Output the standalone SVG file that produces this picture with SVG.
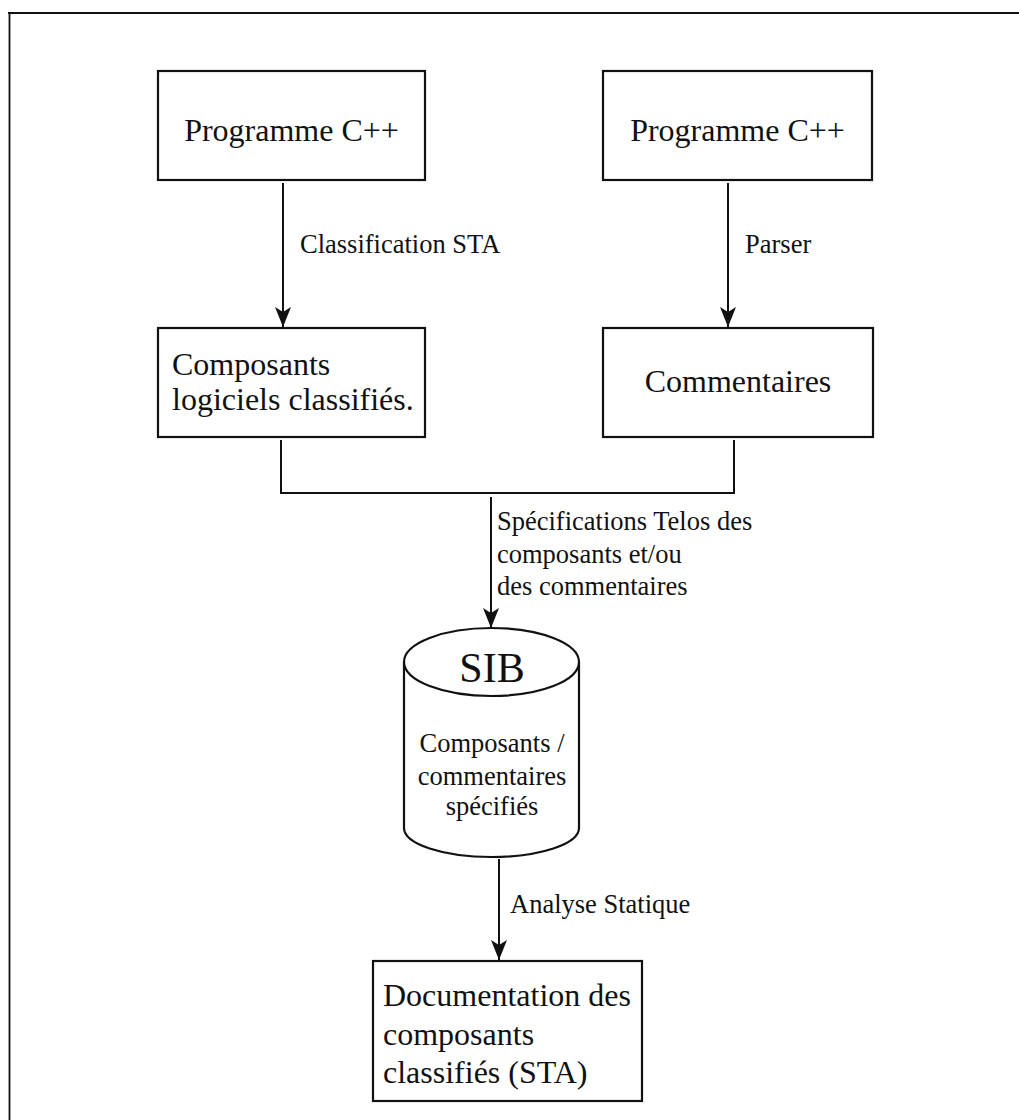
<svg xmlns="http://www.w3.org/2000/svg" width="1019" height="1120" viewBox="0 0 1019 1120">
<defs>
<marker id="ah" markerWidth="20" markerHeight="16" refX="20" refY="8" orient="auto" markerUnits="userSpaceOnUse" viewBox="0 0 20 16">
<path d="M0,0 L20,8 L0,16 L5,8 Z" fill="#111"/>
</marker>
<style>
.box{fill:#fff;stroke:#111;stroke-width:2.2}
.t{font-family:"Liberation Serif","Times New Roman",serif;fill:#111}
.big{font-size:32px}
.lab{font-size:26.5px}
.ln{fill:none;stroke:#111;stroke-width:2}
</style>
</defs>
<rect width="1019" height="1120" fill="#fff"/>
<g id="frame">
<path d="M8,13 H1019 M9.5,13 V1120" fill="none" stroke="#111" stroke-width="1.8"/>
</g>
<g id="connectors">
<line class="ln" x1="283" y1="183" x2="283" y2="327" marker-end="url(#ah)"/>
<line class="ln" x1="728" y1="183" x2="728" y2="327" marker-end="url(#ah)"/>
<path class="ln" d="M281,440 V493 H734 V440"/>
<line class="ln" x1="491" y1="497" x2="491" y2="628" marker-end="url(#ah)"/>
<line class="ln" x1="499" y1="859" x2="499" y2="960" marker-end="url(#ah)"/>
<text class="t lab" x="300" y="253">Classification STA</text>
<text class="t lab" x="745" y="253">Parser</text>
<text class="t lab" x="497" y="530">Spécifications Telos des</text>
<text class="t lab" x="497" y="563">composants et/ou</text>
<text class="t lab" x="497" y="595">des commentaires</text>
<text class="t lab" x="510" y="913">Analyse Statique</text>
</g>
<g id="prog1">
<rect class="box" x="158" y="71" width="267" height="109"/>
<text class="t big" x="291.5" y="141" text-anchor="middle">Programme C++</text>
</g>
<g id="prog2">
<rect class="box" x="603" y="71" width="269" height="109"/>
<text class="t big" x="737.5" y="141" text-anchor="middle">Programme C++</text>
</g>
<g id="composants">
<rect class="box" x="158" y="328" width="267" height="109"/>
<text class="t big" x="172" y="375">Composants</text>
<text class="t big" x="172" y="410">logiciels classifiés.</text>
</g>
<g id="commentaires">
<rect class="box" x="603" y="328" width="270" height="109"/>
<text class="t big" x="738" y="392" text-anchor="middle">Commentaires</text>
</g>
<g id="sib">
<path d="M404,662 V828 A87.5,29 0 0 0 579,828 V662" fill="#fff" stroke="#111" stroke-width="2.2"/>
<ellipse cx="491.5" cy="662" rx="87.5" ry="34" fill="#fff" stroke="#111" stroke-width="2.2"/>
<text class="t" x="492" y="682" text-anchor="middle" font-size="42">SIB</text>
<text class="t lab" x="492" y="752" text-anchor="middle">Composants /</text>
<text class="t lab" x="492" y="785" text-anchor="middle">commentaires</text>
<text class="t lab" x="492" y="815" text-anchor="middle">spécifiés</text>
</g>
<g id="documentation">
<rect class="box" x="373" y="961" width="269" height="140"/>
<text class="t big" x="383" y="1006">Documentation des</text>
<text class="t big" x="383" y="1045">composants</text>
<text class="t big" x="383" y="1083">classifiés (STA)</text>
</g>
</svg>
